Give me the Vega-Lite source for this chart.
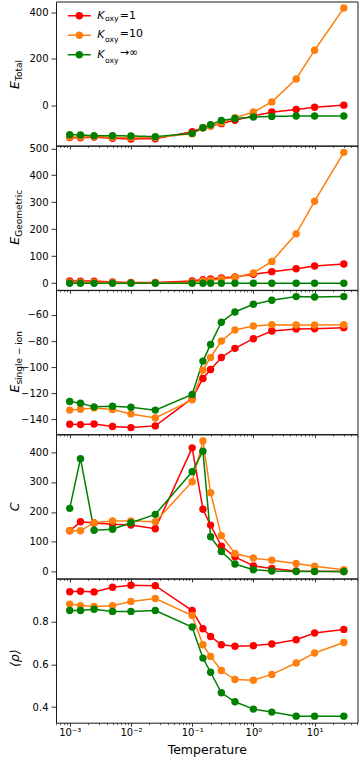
{
  "$schema": "https://vega.github.io/schema/vega-lite/v6.json",
  "padding": {"left": 8, "top": 0.5, "right": 0, "bottom": 0},
  "background": "white",
  "data": {"values": [
    {"T":0.001,"K":"Koxy=1","Et":-140,"Eg":8.6,"Es":-143.8,"C":137,"rho":0.939},
    {"T":0.0015,"K":"Koxy=1","Et":-141,"Eg":8,"Es":-144.1,"C":167,"rho":0.941},
    {"T":0.0025,"K":"Koxy=1","Et":-138,"Eg":8,"Es":-143.6,"C":163,"rho":0.938},
    {"T":0.005,"K":"Koxy=1","Et":-143,"Eg":5,"Es":-145.6,"C":159,"rho":0.96},
    {"T":0.01,"K":"Koxy=1","Et":-146,"Eg":2.5,"Es":-146.4,"C":156,"rho":0.969},
    {"T":0.025,"K":"Koxy=1","Et":-145,"Eg":2.5,"Es":-145.1,"C":144,"rho":0.967},
    {"T":0.1,"K":"Koxy=1","Et":-115,"Eg":8.6,"Es":-124,"C":414,"rho":0.851},
    {"T":0.15,"K":"Koxy=1","Et":-97,"Eg":13.5,"Es":-108.7,"C":209,"rho":0.766},
    {"T":0.2,"K":"Koxy=1","Et":-90,"Eg":16,"Es":-101.8,"C":156,"rho":0.730},
    {"T":0.3,"K":"Koxy=1","Et":-80,"Eg":20,"Es":-92.6,"C":86,"rho":0.691},
    {"T":0.5,"K":"Koxy=1","Et":-65,"Eg":23,"Es":-85.6,"C":50,"rho":0.684},
    {"T":1,"K":"Koxy=1","Et":-47,"Eg":33,"Es":-78.2,"C":20,"rho":0.687},
    {"T":2,"K":"Koxy=1","Et":-30,"Eg":43,"Es":-72.3,"C":11,"rho":0.695},
    {"T":5,"K":"Koxy=1","Et":-19,"Eg":54,"Es":-70.8,"C":3,"rho":0.715},
    {"T":10,"K":"Koxy=1","Et":-9,"Eg":64,"Es":-70.5,"C":2,"rho":0.746},
    {"T":30,"K":"Koxy=1","Et":0,"Eg":71,"Es":-69.7,"C":1,"rho":0.763},
    {"T":0.001,"K":"Koxy=10","Et":-138,"Eg":4,"Es":-133,"C":137,"rho":0.881},
    {"T":0.0015,"K":"Koxy=10","Et":-138,"Eg":4,"Es":-132.3,"C":137,"rho":0.874},
    {"T":0.0025,"K":"Koxy=10","Et":-135,"Eg":4,"Es":-131.3,"C":164,"rho":0.870},
    {"T":0.005,"K":"Koxy=10","Et":-139,"Eg":3,"Es":-132.6,"C":170,"rho":0.873},
    {"T":0.01,"K":"Koxy=10","Et":-140,"Eg":1,"Es":-135.9,"C":170,"rho":0.893},
    {"T":0.025,"K":"Koxy=10","Et":-140,"Eg":1,"Es":-139,"C":167,"rho":0.907},
    {"T":0.1,"K":"Koxy=10","Et":-123,"Eg":4,"Es":-125.1,"C":301,"rho":0.828},
    {"T":0.15,"K":"Koxy=10","Et":-99,"Eg":9,"Es":-102.3,"C":437,"rho":0.691},
    {"T":0.2,"K":"Koxy=10","Et":-90,"Eg":11,"Es":-92.6,"C":264,"rho":0.637},
    {"T":0.3,"K":"Koxy=10","Et":-76,"Eg":16,"Es":-80,"C":121,"rho":0.571},
    {"T":0.5,"K":"Koxy=10","Et":-54,"Eg":21,"Es":-71.5,"C":61,"rho":0.529},
    {"T":1,"K":"Koxy=10","Et":-30,"Eg":38,"Es":-68.5,"C":46,"rho":0.526},
    {"T":2,"K":"Koxy=10","Et":14,"Eg":81,"Es":-67.4,"C":39,"rho":0.553},
    {"T":5,"K":"Koxy=10","Et":113,"Eg":183,"Es":-67.7,"C":28,"rho":0.606},
    {"T":10,"K":"Koxy=10","Et":237,"Eg":304,"Es":-67.7,"C":19,"rho":0.653},
    {"T":30,"K":"Koxy=10","Et":419,"Eg":485,"Es":-67.4,"C":7,"rho":0.702},
    {"T":0.001,"K":"Koxy→∞","Et":-127.6,"Eg":0,"Es":-126.4,"C":212,"rho":0.851},
    {"T":0.0015,"K":"Koxy→∞","Et":-129,"Eg":0,"Es":-127.7,"C":378,"rho":0.851},
    {"T":0.0025,"K":"Koxy→∞","Et":-132,"Eg":0,"Es":-130.5,"C":139,"rho":0.857},
    {"T":0.005,"K":"Koxy→∞","Et":-132,"Eg":0,"Es":-130,"C":142,"rho":0.847},
    {"T":0.01,"K":"Koxy→∞","Et":-133,"Eg":0,"Es":-130.8,"C":164,"rho":0.847},
    {"T":0.025,"K":"Koxy→∞","Et":-136,"Eg":0,"Es":-133,"C":192,"rho":0.851},
    {"T":0.1,"K":"Koxy→∞","Et":-122,"Eg":0,"Es":-121,"C":334,"rho":0.774},
    {"T":0.15,"K":"Koxy→∞","Et":-97.5,"Eg":0,"Es":-95.4,"C":403,"rho":0.629},
    {"T":0.2,"K":"Koxy→∞","Et":-84.6,"Eg":0,"Es":-82.6,"C":117,"rho":0.563},
    {"T":0.3,"K":"Koxy→∞","Et":-66,"Eg":0,"Es":-65.6,"C":68,"rho":0.467},
    {"T":0.5,"K":"Koxy→∞","Et":-58,"Eg":0,"Es":-57.7,"C":26,"rho":0.425},
    {"T":1,"K":"Koxy→∞","Et":-51.6,"Eg":0,"Es":-51.8,"C":7,"rho":0.391},
    {"T":2,"K":"Koxy→∞","Et":-48.7,"Eg":0,"Es":-48.7,"C":3,"rho":0.377},
    {"T":5,"K":"Koxy→∞","Et":-47,"Eg":0,"Es":-45.9,"C":1,"rho":0.358},
    {"T":10,"K":"Koxy→∞","Et":-47,"Eg":0,"Es":-46.2,"C":1,"rho":0.358},
    {"T":30,"K":"Koxy→∞","Et":-47,"Eg":0,"Es":-45.9,"C":1,"rho":0.358}
  ]},
  "vconcat": [
    {
      "width": 301.5, "height": 144,
      "layer": [
        {"mark": {"type": "line", "strokeWidth": 1.5},
         "encoding": {
           "x": {"field": "T", "type": "quantitative", "scale": {"type": "log", "domain": [0.000597, 50.2], "nice": false},
                 "axis": {"orient": "bottom", "values": [0.001, 0.01, 0.1, 1, 10], "labels": false, "tickSize": 3.5, "title": null}},
           "y": {"field": "Et", "type": "quantitative", "scale": {"domain": [-174.25, 447.25], "nice": false, "zero": false},
                 "axis": {"orient": "left", "values": [0, 200, 400], "title": "E", "titleFontStyle": "italic", "titleFontSize": 12.5, "titleAngle": -90, "titleAlign": "left", "titleBaseline": "alphabetic", "titleX": -37.2, "titleY": 87}},
           "color": {"field": "K", "type": "nominal", "scale": {"domain": ["Koxy=1", "Koxy=10", "Koxy→∞"], "range": ["#ff0000", "#ff7f0e", "#008000"]},
                     "legend": {"orient": "none", "legendX": 17.3, "legendY": 8.3, "title": null, "padding": 0,
                                "symbolType": "M-2.3,0H2.3M-0.59,0A0.59,0.59,0,1,1,0.59,0A0.59,0.59,0,1,1,-0.59,0Z",
                                "symbolSize": 100, "symbolStrokeWidth": 1.5, "symbolOpacity": 1,
                                "labelExpr": "'K'", "labelFontStyle": "italic",
                                "labelFont": "DejaVu Sans", "labelFontSize": 11, "labelColor": "#000", "labelOffset": 12, "rowPadding": 7.5,
                                "encode": {"symbols": {"update": {"stroke": {"scale": "color", "field": "value"}, "fill": {"scale": "color", "field": "value"}}}}}},
           "strokeDash": {"field": "K", "type": "nominal", "sort": ["Koxy=1", "Koxy=10", "Koxy→∞"], "scale": {"range": [[1, 0], [1, 0], [1, 0]]},
                     "legend": {"orient": "none", "legendX": 17.3, "legendY": 8.3, "title": null, "padding": 0,
                                "symbolType": "M-2.3,0H2.3M-0.59,0A0.59,0.59,0,1,1,0.59,0A0.59,0.59,0,1,1,-0.59,0Z",
                                "symbolSize": 100, "symbolStrokeWidth": 1.5, "symbolOpacity": 0,
                                "labelExpr": "replace(datum.label, 'Koxy', '')",
                                "labelFont": "DejaVu Sans", "labelFontSize": 11, "labelColor": "#000", "labelOffset": 34.5, "rowPadding": 7.5}}
         }},
        {"mark": {"type": "point", "filled": true, "size": 55, "opacity": 1},
         "encoding": {
           "x": {"field": "T", "type": "quantitative", "scale": {"type": "log", "domain": [0.000597, 50.2], "nice": false},
                 "axis": {"orient": "bottom", "values": [0.0006,0.0007,0.0008,0.0009,0.002,0.003,0.004,0.005,0.006,0.007,0.008,0.009,0.02,0.03,0.04,0.05,0.06,0.07,0.08,0.09,0.2,0.3,0.4,0.5,0.6,0.7,0.8,0.9,2,3,4,5,6,7,8,9,20,30,40,50], "labels": false, "tickSize": 2, "tickWidth": 0.6, "title": null}},
           "y": {"field": "Et", "type": "quantitative", "scale": {"domain": [-174.25, 447.25], "nice": false, "zero": false},
                 "axis": {"orient": "left", "labels": false, "ticks": false, "title": "Total", "titleFontSize": 9, "titleAngle": -90, "titleAlign": "left", "titleBaseline": "alphabetic", "titleX": -34.7, "titleY": 79}},
           "color": {"field": "K", "type": "nominal", "scale": {"domain": ["Koxy=1", "Koxy=10", "Koxy→∞"], "range": ["#ff0000", "#ff7f0e", "#008000"]},
                     "legend": {"orient": "none", "legendX": 17.3, "legendY": 8.3, "title": null, "padding": 0,
                                "symbolType": "M-2.3,0H2.3M-0.59,0A0.59,0.59,0,1,1,0.59,0A0.59,0.59,0,1,1,-0.59,0Z",
                                "symbolSize": 100, "symbolStrokeWidth": 1.5, "symbolOpacity": 1,
                                "labelExpr": "'K'", "labelFontStyle": "italic",
                                "labelFont": "DejaVu Sans", "labelFontSize": 11, "labelColor": "#000", "labelOffset": 12, "rowPadding": 7.5,
                                "encode": {"symbols": {"update": {"stroke": {"scale": "color", "field": "value"}, "fill": {"scale": "color", "field": "value"}}}}}},
           "shape": {"field": "K", "type": "nominal", "scale": {"range": ["circle", "circle", "circle"]},
                     "legend": {"orient": "none", "legendX": 17.3, "legendY": 11.3, "title": null, "padding": 0,
                                "symbolType": "M-2.3,0H2.3M-0.59,0A0.59,0.59,0,1,1,0.59,0A0.59,0.59,0,1,1,-0.59,0Z",
                                "symbolSize": 100, "symbolStrokeWidth": 1.5, "symbolOpacity": 0,
                                "labelExpr": "'oxy'",
                                "labelFont": "DejaVu Sans", "labelFontSize": 7.7, "labelColor": "#000", "labelOffset": 19.8, "rowPadding": 10.3}}
         }}
      ],
      "resolve": {"axis": {"x": "independent", "y": "independent"}}
    },
    {
      "width": 301.5, "height": 144,
      "layer": [
        {"mark": {"type": "line", "strokeWidth": 1.5},
         "encoding": {
           "x": {"field": "T", "type": "quantitative", "scale": {"type": "log", "domain": [0.000597, 50.2], "nice": false},
                 "axis": {"orient": "bottom", "values": [0.001, 0.01, 0.1, 1, 10], "labels": false, "tickSize": 3.5, "title": null}},
           "y": {"field": "Eg", "type": "quantitative", "scale": {"domain": [-24.3, 509.3], "nice": false, "zero": false},
                 "axis": {"orient": "left", "values": [0, 100, 200, 300, 400, 500], "title": "E", "titleFontStyle": "italic", "titleFontSize": 12.5, "titleAngle": -90, "titleAlign": "left", "titleBaseline": "alphabetic", "titleX": -37.2, "titleY": 98.5}},
           "color": {"field": "K", "type": "nominal", "scale": {"domain": ["Koxy=1", "Koxy=10", "Koxy→∞"], "range": ["#ff0000", "#ff7f0e", "#008000"]}, "legend": null}
         }},
        {"mark": {"type": "point", "filled": true, "size": 55, "opacity": 1},
         "encoding": {
           "x": {"field": "T", "type": "quantitative", "scale": {"type": "log", "domain": [0.000597, 50.2], "nice": false},
                 "axis": {"orient": "bottom", "values": [0.0006,0.0007,0.0008,0.0009,0.002,0.003,0.004,0.005,0.006,0.007,0.008,0.009,0.02,0.03,0.04,0.05,0.06,0.07,0.08,0.09,0.2,0.3,0.4,0.5,0.6,0.7,0.8,0.9,2,3,4,5,6,7,8,9,20,30,40,50], "labels": false, "tickSize": 2, "tickWidth": 0.6, "title": null}},
           "y": {"field": "Eg", "type": "quantitative", "scale": {"domain": [-24.3, 509.3], "nice": false, "zero": false},
                 "axis": {"orient": "left", "labels": false, "ticks": false, "title": "Geometric", "titleFontSize": 9, "titleAngle": -90, "titleAlign": "left", "titleBaseline": "alphabetic", "titleX": -34.7, "titleY": 90.5}},
           "color": {"field": "K", "type": "nominal", "scale": {"domain": ["Koxy=1", "Koxy=10", "Koxy→∞"], "range": ["#ff0000", "#ff7f0e", "#008000"]}, "legend": null}
         }}
      ],
      "resolve": {"axis": {"x": "independent", "y": "independent"}}
    },
    {
      "width": 301.5, "height": 144,
      "layer": [
        {"mark": {"type": "line", "strokeWidth": 1.5},
         "encoding": {
           "x": {"field": "T", "type": "quantitative", "scale": {"type": "log", "domain": [0.000597, 50.2], "nice": false},
                 "axis": {"orient": "bottom", "values": [0.001, 0.01, 0.1, 1, 10], "labels": false, "tickSize": 3.5, "title": null}},
           "y": {"field": "Es", "type": "quantitative", "scale": {"domain": [-151.4, -40.9], "nice": false, "zero": false},
                 "axis": {"orient": "left", "values": [-140, -120, -100, -80, -60], "title": "E", "titleFontStyle": "italic", "titleFontSize": 12.5, "titleAngle": -90, "titleAlign": "left", "titleBaseline": "alphabetic", "titleX": -37.2, "titleY": 102}},
           "color": {"field": "K", "type": "nominal", "scale": {"domain": ["Koxy=1", "Koxy=10", "Koxy→∞"], "range": ["#ff0000", "#ff7f0e", "#008000"]}, "legend": null}
         }},
        {"mark": {"type": "point", "filled": true, "size": 55, "opacity": 1},
         "encoding": {
           "x": {"field": "T", "type": "quantitative", "scale": {"type": "log", "domain": [0.000597, 50.2], "nice": false},
                 "axis": {"orient": "bottom", "values": [0.0006,0.0007,0.0008,0.0009,0.002,0.003,0.004,0.005,0.006,0.007,0.008,0.009,0.02,0.03,0.04,0.05,0.06,0.07,0.08,0.09,0.2,0.3,0.4,0.5,0.6,0.7,0.8,0.9,2,3,4,5,6,7,8,9,20,30,40,50], "labels": false, "tickSize": 2, "tickWidth": 0.6, "title": null}},
           "y": {"field": "Es", "type": "quantitative", "scale": {"domain": [-151.4, -40.9], "nice": false, "zero": false},
                 "axis": {"orient": "left", "labels": false, "ticks": false, "title": "single − ion", "titleFontSize": 9, "titleAngle": -90, "titleAlign": "left", "titleBaseline": "alphabetic", "titleX": -34.7, "titleY": 94}},
           "color": {"field": "K", "type": "nominal", "scale": {"domain": ["Koxy=1", "Koxy=10", "Koxy→∞"], "range": ["#ff0000", "#ff7f0e", "#008000"]}, "legend": null}
         }}
      ],
      "resolve": {"axis": {"x": "independent", "y": "independent"}}
    },
    {
      "width": 301.5, "height": 144,
      "layer": [
        {"mark": {"type": "line", "strokeWidth": 1.5},
         "encoding": {
           "x": {"field": "T", "type": "quantitative", "scale": {"type": "log", "domain": [0.000597, 50.2], "nice": false},
                 "axis": {"orient": "bottom", "values": [0.001, 0.01, 0.1, 1, 10], "labels": false, "tickSize": 3.5, "title": null}},
           "y": {"field": "C", "type": "quantitative", "scale": {"domain": [-21.9, 458.9], "nice": false, "zero": false},
                 "axis": {"orient": "left", "values": [0, 100, 200, 300, 400], "title": "C", "titleFontStyle": "italic", "titleFontSize": 12.5, "titleAngle": -90, "titleAlign": "center", "titleBaseline": "alphabetic", "titleX": -37.2, "titleY": 72}},
           "color": {"field": "K", "type": "nominal", "scale": {"domain": ["Koxy=1", "Koxy=10", "Koxy→∞"], "range": ["#ff0000", "#ff7f0e", "#008000"]}, "legend": null}
         }},
        {"mark": {"type": "point", "filled": true, "size": 55, "opacity": 1},
         "encoding": {
           "x": {"field": "T", "type": "quantitative", "scale": {"type": "log", "domain": [0.000597, 50.2], "nice": false},
                 "axis": {"orient": "bottom", "values": [0.0006,0.0007,0.0008,0.0009,0.002,0.003,0.004,0.005,0.006,0.007,0.008,0.009,0.02,0.03,0.04,0.05,0.06,0.07,0.08,0.09,0.2,0.3,0.4,0.5,0.6,0.7,0.8,0.9,2,3,4,5,6,7,8,9,20,30,40,50], "labels": false, "tickSize": 2, "tickWidth": 0.6, "title": null}},
           "y": {"field": "C", "type": "quantitative", "scale": {"domain": [-21.9, 458.9], "nice": false, "zero": false}, "axis": null},
           "color": {"field": "K", "type": "nominal", "scale": {"domain": ["Koxy=1", "Koxy=10", "Koxy→∞"], "range": ["#ff0000", "#ff7f0e", "#008000"]}, "legend": null}
         }}
      ],
      "resolve": {"axis": {"x": "independent", "y": "independent"}}
    },
    {
      "width": 301.5, "height": 144,
      "layer": [
        {"mark": {"type": "line", "strokeWidth": 1.5},
         "encoding": {
           "x": {"field": "T", "type": "quantitative", "scale": {"type": "log", "domain": [0.000597, 50.2], "nice": false},
                 "axis": {"orient": "bottom", "values": [0.001, 0.01, 0.1, 1, 10], "labels": true, "labelFlush": false, "labelOverlap": false, "labelPadding": 1.5,
                          "labelExpr": "datum.value < 0.005 ? '10⁻³' : datum.value < 0.05 ? '10⁻²' : datum.value < 0.5 ? '10⁻¹' : datum.value < 5 ? '10⁰' : '10¹'",
                          "tickSize": 3.5, "title": "Temperature", "titleFontSize": 12.5, "titlePadding": 6}},
           "y": {"field": "rho", "type": "quantitative", "scale": {"domain": [0.3275, 0.9996], "nice": false, "zero": false},
                 "axis": {"orient": "left", "values": [0.4, 0.6, 0.8], "format": ".1f", "title": "⟨ρ⟩", "titleFontStyle": "italic", "titleFontSize": 12.5, "titleAngle": -90, "titleAlign": "center", "titleBaseline": "alphabetic", "titleX": -37.2, "titleY": 79}},
           "color": {"field": "K", "type": "nominal", "scale": {"domain": ["Koxy=1", "Koxy=10", "Koxy→∞"], "range": ["#ff0000", "#ff7f0e", "#008000"]}, "legend": null}
         }},
        {"mark": {"type": "point", "filled": true, "size": 55, "opacity": 1},
         "encoding": {
           "x": {"field": "T", "type": "quantitative", "scale": {"type": "log", "domain": [0.000597, 50.2], "nice": false},
                 "axis": {"orient": "bottom", "values": [0.0006,0.0007,0.0008,0.0009,0.002,0.003,0.004,0.005,0.006,0.007,0.008,0.009,0.02,0.03,0.04,0.05,0.06,0.07,0.08,0.09,0.2,0.3,0.4,0.5,0.6,0.7,0.8,0.9,2,3,4,5,6,7,8,9,20,30,40,50], "labels": false, "tickSize": 2, "tickWidth": 0.6, "title": null}},
           "y": {"field": "rho", "type": "quantitative", "scale": {"domain": [0.3275, 0.9996], "nice": false, "zero": false}, "axis": null},
           "color": {"field": "K", "type": "nominal", "scale": {"domain": ["Koxy=1", "Koxy=10", "Koxy→∞"], "range": ["#ff0000", "#ff7f0e", "#008000"]}, "legend": null}
         }}
      ],
      "resolve": {"axis": {"x": "independent", "y": "independent"}}
    }
  ],
  "spacing": 0.3,
  "bounds": "flush",
  "config": {
    "font": "DejaVu Sans",
    "view": {"stroke": "#1a1a1a", "strokeWidth": 1},
    "axis": {"labelFont": "DejaVu Sans", "labelFontSize": 10, "labelColor": "#000", "tickColor": "#000", "tickWidth": 0.8, "domain": false, "grid": false, "labelPadding": 3,
             "titleFont": "DejaVu Sans", "titleFontWeight": "normal", "titleColor": "#000"}
  }
}
